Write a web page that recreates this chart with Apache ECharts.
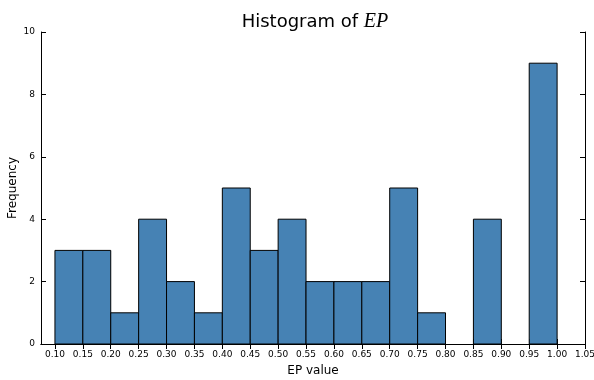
<!DOCTYPE html>
<html>
<head>
<meta charset="utf-8">
<script src="https://cdn.jsdelivr.net/npm/echarts@6/dist/echarts.min.js"></script>
<style>html,body{margin:0;padding:0;background:#fff}#c{width:594px;height:380px}</style>
</head>
<body>
<div id="c"></div>
<script>
// Histogram bins (left edges, width 0.05) and counts
var binStarts = [0.10,0.15,0.20,0.25,0.30,0.35,0.40,0.45,0.50,0.55,0.60,0.65,0.70,0.75,0.80,0.85,0.90,0.95];
var binWidth = 0.05;
var counts = [3,3,1,4,2,1,5,3,4,2,2,2,5,1,0,4,0,9];
var xTicks = [0.10,0.15,0.20,0.25,0.30,0.35,0.40,0.45,0.50,0.55,0.60,0.65,0.70,0.75,0.80,0.85,0.90,0.95,1.00,1.05];
var yTicks = [0,2,4,6,8,10];

var data = binStarts.map(function(s,i){ return [s, +(s+binWidth).toFixed(2), counts[i]]; });

var font = 'DejaVu Sans';
var chart = echarts.init(document.getElementById('c'), null, {renderer:'canvas'});
var axisLine = {show:true, lineStyle:{color:'#000', width:1}};
var tickStyle = {show:true, inside:true, length:5, lineStyle:{color:'#000', width:1}};
chart.setOption({
  animation:false,
  backgroundColor:'#fff',
  title:{
    text:'Histogram of {i|EP}',
    left:310, top:7, textAlign:'center',
    textStyle:{fontFamily:font, fontSize:18, fontWeight:'normal', color:'#000',
      rich:{i:{fontFamily:'Liberation Serif', fontStyle:'italic', fontSize:20, color:'#000'}}}
  },
  grid:{left:41, right:9, top:32, bottom:36, show:false, containLabel:false, outerBoundsMode:'none'},
  xAxis:[{
    type:'value', min:0.075, max:1.05, position:'bottom',
    name:'EP value', nameLocation:'middle', nameGap:21, nameMoveOverlap:false,
    nameTextStyle:{fontFamily:font, fontSize:12, color:'#000'},
    axisLine:axisLine,
    axisTick:Object.assign({customValues:xTicks}, tickStyle),
    axisLabel:{customValues:xTicks, margin:6, fontFamily:font, fontSize:9, color:'#000',
      formatter:function(v){return v.toFixed(2);}},
    splitLine:{show:false}
  },{
    type:'value', min:0.075, max:1.05, position:'top',
    axisLine:axisLine,
    axisTick:Object.assign({customValues:xTicks}, tickStyle),
    axisLabel:{show:false}, splitLine:{show:false}
  }],
  yAxis:[{
    type:'value', min:0, max:10, interval:2, position:'left',
    name:'Frequency', nameLocation:'middle', nameGap:22, nameMoveOverlap:false,
    nameTextStyle:{fontFamily:font, fontSize:12, color:'#000'},
    axisLine:axisLine,
    axisTick:Object.assign({customValues:yTicks}, tickStyle),
    axisLabel:{customValues:yTicks, margin:6, fontFamily:font, fontSize:9, color:'#000'},
    splitLine:{show:false}
  },{
    type:'value', min:0, max:10, interval:2, position:'right',
    axisLine:axisLine,
    axisTick:Object.assign({customValues:yTicks}, tickStyle),
    axisLabel:{show:false}, splitLine:{show:false}
  }],
  series:[{
    type:'custom',
    xAxisIndex:0, yAxisIndex:0,
    data:data,
    encode:{x:[0,1], y:2},
    renderItem:function(params, api){
      var c = api.value(2);
      if (!c) return null;
      var p0 = api.coord([api.value(0), c]);
      var p1 = api.coord([api.value(1), 0]);
      return {
        type:'rect',
        shape:{x:p0[0], y:p0[1], width:p1[0]-p0[0], height:p1[1]-p0[1]},
        style:{fill:'#4682b4', stroke:'#000', lineWidth:1}
      };
    }
  }]
});
</script>
</body>
</html>
